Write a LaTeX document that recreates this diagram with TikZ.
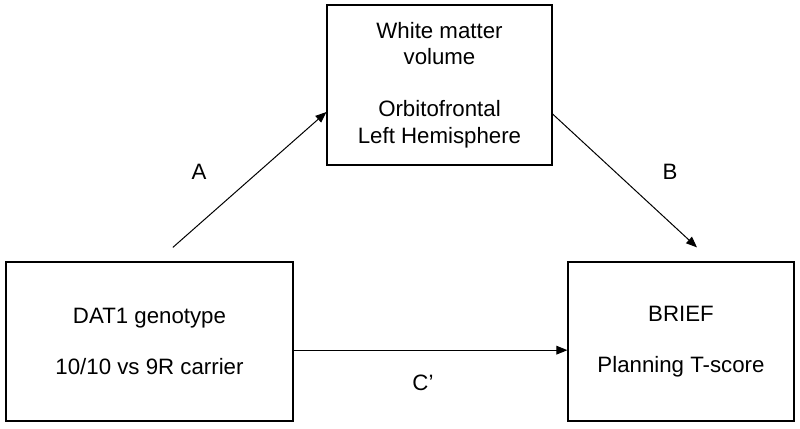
\documentclass[tikz,border=0pt]{standalone}
\usepackage{fontspec}
\setmainfont{Liberation Sans}
\usetikzlibrary{arrows.meta}
\usetikzlibrary{positioning}

\tikzset{
box/.style={draw,line width=1pt,align=center,inner sep=0pt,font=\fontsize{19}{23}\selectfont},
arr/.style={-{Triangle[length=0.33cm,width=0.26cm]},line width=0.85pt},
lbl/.style={font=\fontsize{19}{23}\selectfont}
}

\begin{document}
\begin{tikzpicture}
\useasboundingbox (0,0) rectangle (24,12.84);

\node[box,minimum width=8.61cm,minimum height=4.77cm] (dat) at (4.485,2.595) {DAT1 genotype\\[21pt]10/10 vs 9R carrier};
\node[box,minimum width=6.75cm,minimum height=4.8cm] (wm) at (13.185,10.29) {White matter\\volume\\[21pt]Orbitofrontal\\Left Hemisphere};
\node[box,minimum width=6.78cm,minimum height=4.77cm] (brief) at (20.43,2.595) {BRIEF\\[21pt]Planning T-score};

\coordinate (astart) at ([xshift=0.7cm,yshift=0.42cm]dat.north);
\coordinate (bend) at ([xshift=0.48cm,yshift=0.42cm]brief.north);

\draw[arr] (astart) -- ([yshift=-0.81cm]wm.west);
\draw[arr] ([yshift=-0.87cm]wm.east) -- (bend);
\draw[arr] ([yshift=-0.26cm]dat.east) -- ([yshift=-0.26cm]brief.west);

\node[lbl] (la) at (5.97,7.68) {A};
\node[lbl] (lb) at (20.1,7.68) {B};
\node[lbl] (lc) at (12.69,1.35) {C’};

\end{tikzpicture}
\end{document}
